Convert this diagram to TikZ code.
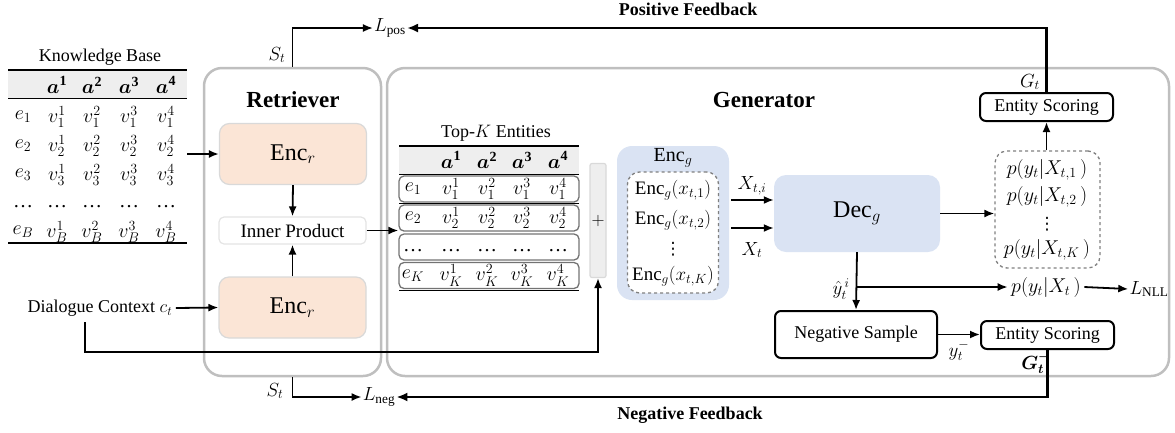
\documentclass[tikz,border=0pt]{standalone}
\usepackage{fix-cm}
\usepackage{amsmath,bm}
\usepackage{fontspec}
\setmainfont{Liberation Serif}
\newfontfamily\dvfont{DejaVu Sans}
\usetikzlibrary{arrows.meta}
\definecolor{peach}{HTML}{FBE5D6}
\definecolor{lblue}{HTML}{DAE3F3}
\definecolor{boxgray}{HTML}{BFBFBF}
\definecolor{lgray}{HTML}{D9D9D9}
\definecolor{hdrgray}{HTML}{EEEEEE}
\definecolor{dashgray}{HTML}{808080}
\begin{document}
\begin{tikzpicture}[x=1pt,y=-1pt,font=\fontsize{18}{21}\selectfont,
  outer/.style={draw=boxgray,line width=2.5pt,rounded corners=18pt,inner sep=0pt},
  encbox/.style={fill=peach,draw=lgray,line width=1.2pt,rounded corners=10pt,minimum width=147pt,minimum height=61pt,font=\fontsize{24}{27}\selectfont},
  innerbox/.style={fill=white,draw=lgray!70,line width=1.2pt,rounded corners=5pt,minimum width=147pt,minimum height=27pt,font=\fontsize{19}{22}\selectfont},
  blackbox/.style={draw=black,line width=2pt,rounded corners=6pt,fill=white},
  dashbox/.style={draw=dashgray,dashed,line width=1.3pt,rounded corners=12pt,fill=white},
  rowbox/.style={draw=black!55,line width=1.3pt,rounded corners=5pt,minimum width=180pt,minimum height=26pt},
  cell/.style={inner sep=0pt,font=\fontsize{20}{22}\selectfont},
  lbl/.style={inner sep=1pt,font=\fontsize{19}{22}\selectfont},
  vd/.style={inner sep=0pt,font=\fontsize{17}{18}\selectfont\dvfont},
  bold/.style={font=\fontsize{23}{26}\selectfont\bfseries},
  fbtext/.style={font=\fontsize{18}{21}\selectfont\bfseries},
  arr/.style={-{Latex[length=10pt,width=8pt]},line width=1.8pt},
  fb/.style={-{Latex[length=11pt,width=9pt]},line width=2.4pt},
  rule/.style={line width=1.8pt}]
\useasboundingbox (0,0) rectangle (1175,432);

% ---------- Knowledge base table ----------
\node (kbt) at (100,57) {Knowledge Base};
\fill[hdrgray] (8,70) rectangle (187,98);
\draw[rule] (8,70) -- (187,70);
\draw[rule] (8,98.5) -- (187,98.5);
\draw[rule] (8,243) -- (187,243);
\foreach \c/\x in {1/57,2/92,3/129,4/166}
  \node[cell] (kba\c) at (\x,85) {$\bm{a}^{\mathbf{\c}}$};
\foreach \r/\y/\i in {1/117/1,2/146/2,3/175/3,5/232/B}{
  \node[cell] (kbe\r) at (23,\y) {$e_{\i}$};
  \foreach \c/\x in {1/57,2/92,3/129,4/166}
    \node[cell] (kbv\r\c) at (\x,\y) {$v_{\i}^{\c}$};
}
\foreach \k/\x in {0/23,1/57,2/92,3/129,4/166}
  \node[cell] (kbd\k) at (\x,207) {…};
\coordinate (kbout) at (187,154);

% ---------- Retriever ----------
\node[outer,minimum width=177pt,minimum height=308pt] (ret) at (292.5,222) {};
\node[bold] (rett) at (293,100) {Retriever};
\node[encbox] (encr1) at (293,154) {$\mathrm{Enc}_r$};
\node[innerbox] (inner) at (292.5,230.5) {Inner Product};
\node[encbox] (encr2) at (292.5,307.5) {$\mathrm{Enc}_r$};
\draw[arr] (kbout) -- (encr1.west);
\draw[arr] (encr1.south) -- (inner.north);
\draw[arr] (encr2.north) -- (inner.south);

\node (dc) at (100,308) {Dialogue Context $c_t$};
\draw[arr] (dc.east) -- (encr2.west);

% ---------- Generator ----------
\node[outer,minimum width=782pt,minimum height=308pt] (gen) at (778,222) {};
\node[bold] (gent) at (764,100) {Generator};

% Top-K table
\node (tkt) at (496,133) {Top-$K$ Entities};
\fill[hdrgray] (399,146) rectangle (579,174);
\draw[rule] (399,146) -- (579,146);
\draw[rule] (399,174.5) -- (579,174.5);
\draw[rule] (399,203.5) -- (579,203.5);
\draw[rule] (399,290.5) -- (579,290.5);
\node[rowbox] (tkr1) at (489,189) {};
\node[rowbox] (tkr2) at (489,218) {};
\node[rowbox] (tkr3) at (489,247) {};
\node[rowbox] (tkr4) at (489,275.5) {};
\foreach \c/\x in {1/451,2/487,3/522,4/558}
  \node[cell] (tka\c) at (\x,160) {$\bm{a}^{\mathbf{\c}}$};
\foreach \r/\y/\i in {1/189/1,2/218/2,4/275.5/K}{
  \node[cell] (tke\r) at (413,\y) {$e_{\i}$};
  \foreach \c/\x in {1/451,2/487,3/522,4/558}
    \node[cell] (tkv\r\c) at (\x,\y) {$v_{\i}^{\c}$};
}
\foreach \k/\x in {0/413,1/451,2/487,3/522,4/558}
  \node[cell] (tkd\k) at (\x,251) {…};
\draw[arr] (inner.east) -- (inner.east -| tkr2.west);

% plus bar
\node[fill=hdrgray,draw=lgray,line width=1.2pt,rounded corners=2pt,minimum width=16pt,minimum height=114pt,inner sep=0pt] (plus) at (598,220.5) {$+$};
\coordinate (dcs) at (85,322);
\coordinate (dcc) at (85,352);
\draw[arr] (dcs) -- (dcc) -| (plus.south);

% Enc_g
\node[fill=lblue,rounded corners=15pt,minimum width=112pt,minimum height=154pt,inner sep=0pt] (encgo) at (673,223) {};
\node[font=\fontsize{20}{23}\selectfont] (encgt) at (673,158) {$\mathrm{Enc}_g$};
\node[dashbox,minimum width=91pt,minimum height=121pt,inner sep=0pt] (encgi) at (673,232.5) {};
\begin{scope}[font=\fontsize{19}{22}\selectfont]
\node[inner sep=0pt] (eg1) at (673,190) {$\mathrm{Enc}_g(x_{t,1})$};
\node[inner sep=0pt] (eg2) at (673,220) {$\mathrm{Enc}_g(x_{t,2})$};
\node[inner sep=0pt] (egk) at (673,276) {$\mathrm{Enc}_g(x_{t,K})$};
\end{scope}
\node[vd] (egd) at (673,249) {⋮};

% Dec_g
\node[fill=lblue,rounded corners=12pt,minimum width=166pt,minimum height=77pt,font=\fontsize{24}{27}\selectfont] (decg) at (857,213.5) {$\mathrm{Dec}_g$};
\coordinate (xti) at (731,200);
\coordinate (xt) at (731,228);
\draw[arr] (xti) -- (xti -| decg.west);
\draw[arr] (xt) -- (xt -| decg.west);
\node[lbl] (xtil) at (752,186) {$X_{t,i}$};
\node[lbl] (xtl) at (752,250) {$X_t$};

% p box
\node[dashbox,minimum width=105pt,minimum height=117pt,inner sep=0pt] (pbox) at (1047.5,209.5) {};
\begin{scope}[font=\fontsize{20}{22}\selectfont]
\node[inner sep=0pt] (p1) at (1047,170) {$p(y_t|X_{t,1}\,)$};
\node[inner sep=0pt] (p2) at (1047,197) {$p(y_t|X_{t,2}\,)$};
\node[inner sep=0pt] (pk) at (1047,250) {$p(y_t|X_{t,K}\,)$};
\end{scope}
\node[vd] (pd) at (1047,224) {⋮};
\draw[arr] (decg.east) -- (decg.east -| pbox.west);

% Entity scoring (top)
\node[blackbox,minimum width=133pt,minimum height=28pt,inner sep=0pt] (es1) at (1046.5,107) {Entity Scoring};
\draw[arr] (pbox.north -| es1.south) -- (es1.south);
\node[lbl] (gtl) at (1030,82) {$G_t$};

% Losses top
\node[lbl] (lpos) at (390,28) {$L_{\mathrm{pos}}$};
\draw[arr] (ret.north) |- (lpos.west);
\node[lbl] (st1) at (277,55) {$S_t$};
\draw[fb] (es1.north) |- (lpos.east);
\node[fbtext] (pfb) at (688,9) {Positive Feedback};

% Bottom part
\node[blackbox,minimum width=162pt,minimum height=47pt] (negs) at (856,334.5) {Negative Sample};
\node[blackbox,minimum width=133pt,minimum height=28pt,inner sep=0pt] (es2) at (1047.5,335) {Entity Scoring};
\draw[arr] (decg.south) -- (negs.north);
\node[font=\fontsize{20}{22}\selectfont] (pyx) at (1046,287) {$p(y_t|X_t\,)$};
\coordinate (jn) at (857,287);
\draw[arr] (jn) -- (pyx.west);
\node[lbl] (yhat) at (841,289) {$\hat{y}_t^{\,i}$};
\node[lbl] (lnll) at (1149,289) {$L_{\mathrm{NLL}}$};
\draw[arr] (pyx.east) -- (lnll.west);
\draw[arr] (negs.east) -- (negs.east -| es2.west);
\node[lbl] (ytm) at (959,351) {$y_t^-$};
\node[lbl] (gtm) at (1036,363) {$\bm{G_t^-}$};

\node[lbl] (lneg) at (379,397) {$L_{\mathrm{neg}}$};
\draw[arr] (ret.south) |- (lneg.west);
\node[lbl] (st2) at (275,391) {$S_t$};
\draw[fb] (es2.south) |- (lneg.east);
\node[fbtext] (nfb) at (690,415) {Negative Feedback};
\end{tikzpicture}
\end{document}
